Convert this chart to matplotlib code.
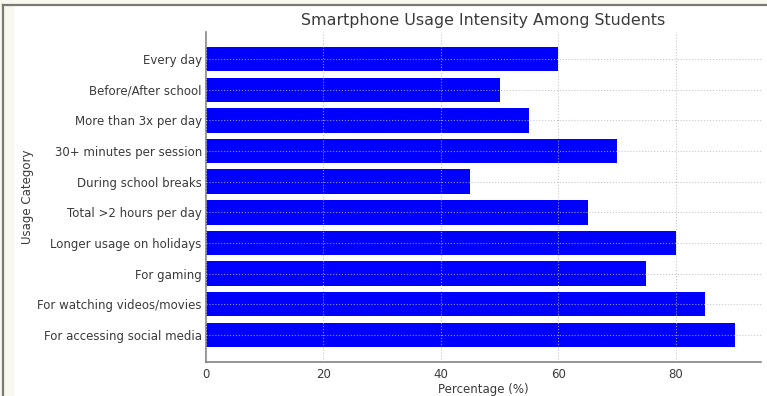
import matplotlib.pyplot as plt
from matplotlib.patches import Rectangle
from matplotlib.lines import Line2D

# survey results: share of students per usage category
categories = [
    'Every day',
    'Before/After school',
    'More than 3x per day',
    '30+ minutes per session',
    'During school breaks',
    'Total >2 hours per day',
    'Longer usage on holidays',
    'For gaming',
    'For watching videos/movies',
    'For accessing social media',
]
percentages = [60, 50, 55, 70, 45, 65, 80, 75, 85, 90]

W, H = 767, 396
fig = plt.figure(figsize=(W / 100, H / 100), dpi=100, facecolor='#f8f8ef')

# white panel with a thin grey frame at the top and left
fig.patches.append(Rectangle((14 / W, 0), 1 - 14 / W, 1 - 6 / H,
                             transform=fig.transFigure, facecolor='white',
                             edgecolor='none', zorder=-2))
fig.lines.append(Line2D([3.5 / W, 3.5 / W], [0, 1 - 5 / H], transform=fig.transFigure,
                        color='#7a7a72', linewidth=1.6, zorder=-1))
fig.lines.append(Line2D([3 / W, 1], [1 - 5 / H, 1 - 5 / H], transform=fig.transFigure,
                        color='#7a7a72', linewidth=1.6, zorder=-1))

ax = fig.add_axes([206 / W, 1 - 362 / H, (761 - 206) / W, (362 - 32) / H])
ax.set_facecolor('white')

ax.barh(categories, percentages, color='#0000ff', height=0.8, zorder=1)
ax.invert_yaxis()

text_color = '#3a3a3a'
ax.set_title('Smartphone Usage Intensity Among Students', fontsize=11.4,
             color=text_color, pad=5)
ax.set_xlabel('Percentage (%)', fontsize=8.5, color=text_color, labelpad=1.5)
ax.set_ylabel('Usage Category', fontsize=8.5, color=text_color, labelpad=2.5)

ax.set_xticks([0, 20, 40, 60, 80])
ax.tick_params(axis='x', labelsize=8.5, colors=text_color, length=0, pad=4)
ax.tick_params(axis='y', labelsize=8.5, colors=text_color, length=0, pad=3)

ax.grid(True, linestyle=':', linewidth=0.8, color='#bbbbbb', alpha=0.8)
ax.set_axisbelow(False)

for side in ('top', 'right'):
    ax.spines[side].set_visible(False)
for side in ('left', 'bottom'):
    ax.spines[side].set_color('#777777')
    ax.spines[side].set_linewidth(1.1)

fig.savefig('out.png', dpi=100, facecolor=fig.get_facecolor())
